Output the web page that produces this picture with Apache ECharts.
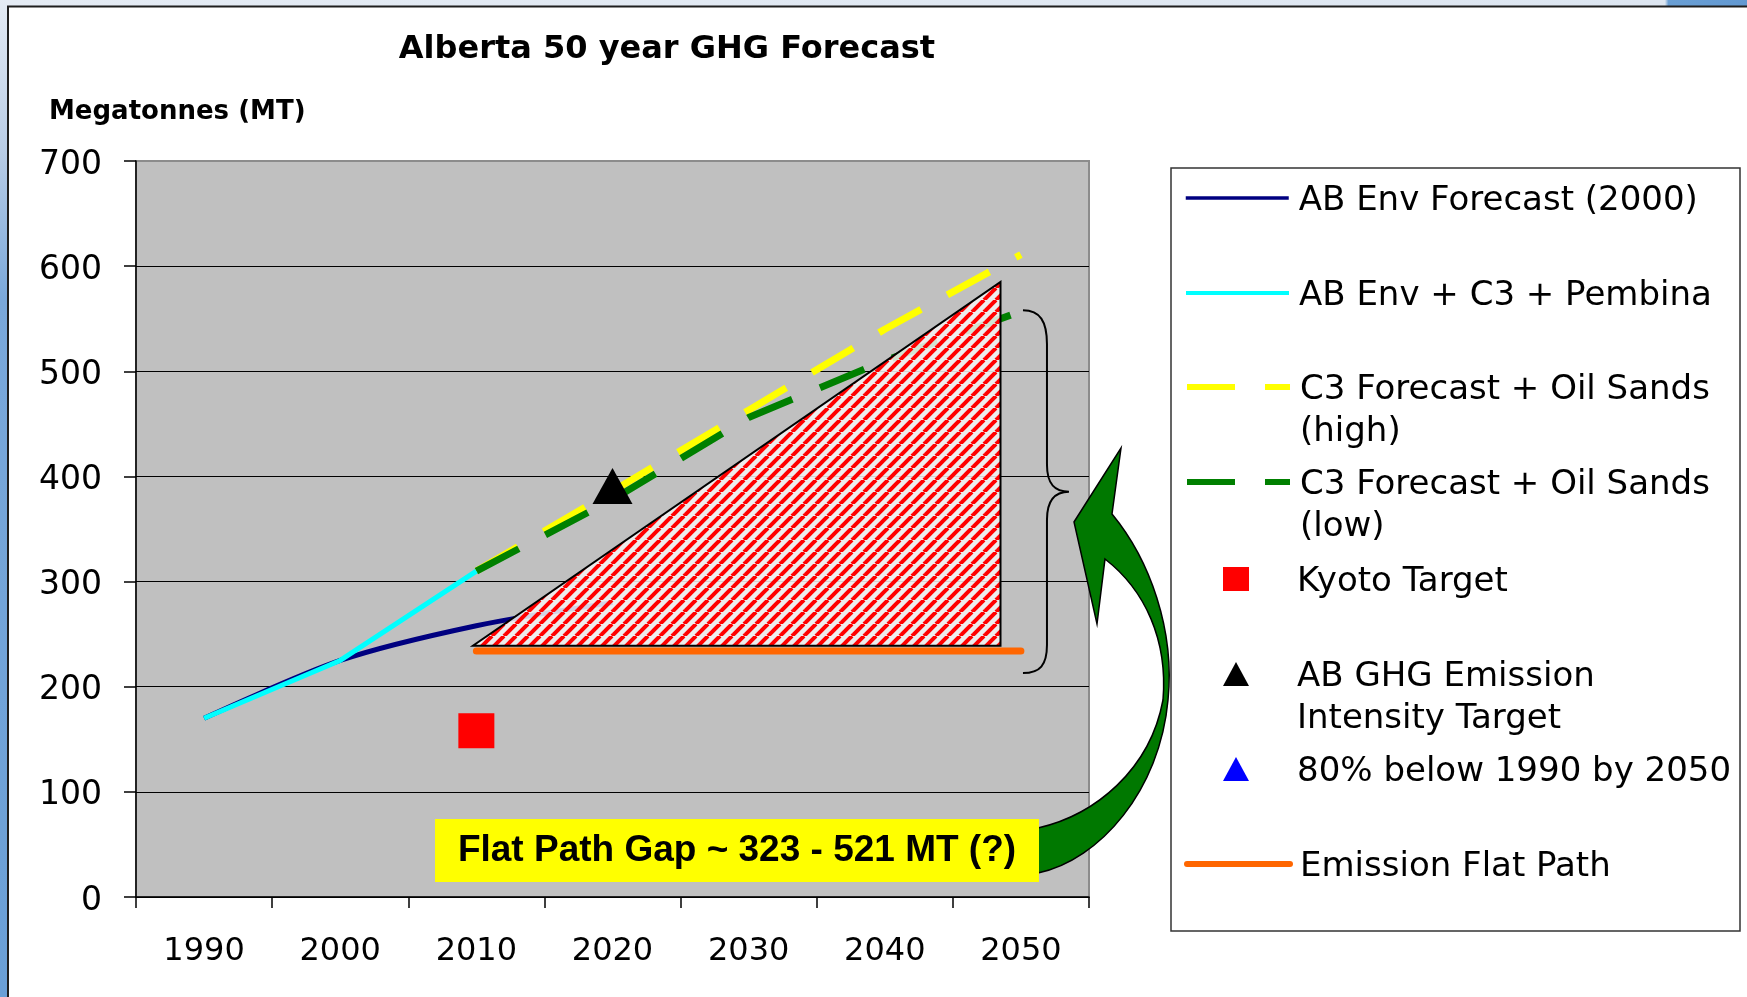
<!DOCTYPE html>
<html>
<head>
<meta charset="utf-8">
<title>Alberta 50 year GHG Forecast</title>
<script src="https://cdn.jsdelivr.net/npm/echarts@6/dist/echarts.min.js"></script>
<style>
html, body { margin: 0; padding: 0; background: #fff; }
#main { width: 1747px; height: 997px; }
</style>
</head>
<body>
<div id="main"></div>
<script>
// categories on the x axis (decades)
var decades = ['1990', '2000', '2010', '2020', '2030', '2040', '2050'];

// series values, [year, megatonnes]
var abEnv2000 = [[1990, 170], [2000, 225], [2010, 258], [2020, 280]];
var abEnvC3Pembina = [[1990, 170], [2000, 225], [2010, 310]];
var c3High = [[2010, 310], [2020, 386], [2030, 463], [2040, 540], [2050, 611]];
var c3Low = [[2010, 310], [2020, 378], [2030, 456], [2040, 510], [2050, 557]];
var kyotoTarget = [[2010, 158]];
var intensityTarget = [[2020, 391]];
var below1990 = [[2050, 34]];
var flatPath = [[2010, 234], [2050, 234]];

// hatched gap triangle and the brace that spans the gap
var gapTriangle = [[2009.75, 239], [2048.5, 239], [2048.5, 585]];
var braceSpan = [2050.15, 558, 213];

var FONT = 'DejaVu Sans';

// red / white diagonal hatch
var hatch = document.createElement('canvas');
hatch.width = 12;
hatch.height = 12;
var hctx = hatch.getContext('2d');
hctx.fillStyle = 'rgba(244,244,244,0.86)';
hctx.fillRect(0, 0, 12, 12);
hctx.strokeStyle = '#ff0000';
hctx.lineWidth = 4;
for (var k = -1; k <= 1; k++) {
    hctx.beginPath();
    hctx.moveTo(k * 12, 12);
    hctx.lineTo(k * 12 + 12, 0);
    hctx.stroke();
}

function grad(x2, y2, stops) {
    return {type: 'linear', x: 0, y: 0, x2: x2, y2: y2, colorStops: stops};
}

var myChart = echarts.init(document.getElementById('main'));

// one legend component per entry so the rows line up like the original box
function legendRow(name, centerY, label, lineWidth) {
    var lh = 42;
    var parts = label.split('\n');
    var text = parts.map(function (s) { return '{t|' + s + '}'; }).join('\n');
    if (parts.length > 1) text = '\n' + text; // empty first line keeps row 1 on the icon
    var lg = {
        data: [name],
        top: parts.length > 1 ? centerY - 1.5 * lh : centerY - lh / 2,
        padding: 0,
        itemHeight: 24,
        selectedMode: false,
        formatter: function () { return text; },
        textStyle: {
            fontFamily: FONT, fontSize: 34, color: '#000', lineHeight: lh,
            rich: {t: {fontFamily: FONT, fontSize: 34, color: '#000', lineHeight: lh, padding: [6, 0, 0, 0]}}
        }
    };
    if (lineWidth) {
        lg.left = 1184;
        lg.itemWidth = 103;
        lg.lineStyle = {width: lineWidth};
        lg.itemStyle = {opacity: 0};
        lg.textStyle.padding = [0, 0, 0, 5];
    } else {
        lg.left = 1223;
        lg.itemWidth = 26;
        lg.textStyle.padding = [0, 0, 0, 43];
    }
    return lg;
}

var option = {
    backgroundColor: '#fff',
    animation: false,
    title: [{
        text: 'Alberta 50 year GHG Forecast',
        left: 667, top: 34, padding: 0, textAlign: 'center',
        textStyle: {fontFamily: FONT, fontWeight: 'bold', fontSize: 32, color: '#000'}
    }, {
        text: 'Megatonnes (MT)',
        left: 49, top: 99, padding: 0,
        textStyle: {fontFamily: FONT, fontWeight: 'bold', fontSize: 26, color: '#000'}
    }],
    legend: [
        legendRow('AB Env Forecast (2000)', 198, 'AB Env Forecast (2000)', 3.5),
        legendRow('AB Env + C3 + Pembina', 293, 'AB Env + C3 + Pembina', 4),
        legendRow('C3 Forecast + Oil Sands (high)', 387, 'C3 Forecast + Oil Sands\n(high)', 6),
        legendRow('C3 Forecast + Oil Sands (low)', 482, 'C3 Forecast + Oil Sands\n(low)', 6),
        legendRow('Kyoto Target', 579, 'Kyoto Target'),
        legendRow('AB GHG Emission Intensity Target', 674, 'AB GHG Emission\nIntensity Target'),
        legendRow('80% below 1990 by 2050', 769, '80% below 1990 by 2050'),
        legendRow('Emission Flat Path', 864, 'Emission Flat Path', 6)
    ],
    grid: {
        left: 136, right: 658, top: 161, bottom: 100,
        show: true, backgroundColor: '#c0c0c0', borderColor: '#8c8c8c', borderWidth: 2
    },
    xAxis: [{
        type: 'category',
        data: decades,
        boundaryGap: true,
        axisLine: {lineStyle: {color: '#000', width: 1.5}},
        axisTick: {show: true, interval: 0, length: 11, lineStyle: {color: '#000', width: 1.5}},
        axisLabel: {interval: 0, margin: 39, fontFamily: FONT, fontSize: 32, color: '#000'},
        splitLine: {show: false}
    }, {
        type: 'value',
        min: 1985, max: 2055,
        show: false
    }],
    yAxis: {
        type: 'value',
        min: 0, max: 700, interval: 100,
        axisLine: {show: true, lineStyle: {color: '#000', width: 1.5}},
        axisTick: {show: true, length: 12, lineStyle: {color: '#000', width: 1.5}},
        axisLabel: {
            margin: 34, formatter: '{v|{value}}',
            rich: {v: {fontFamily: FONT, fontSize: 33, color: '#000', padding: [8, 0, 0, 0]}}
        },
        splitLine: {show: true, showMaxLine: false, lineStyle: {color: '#000', width: 1.2}}
    },
    series: [{
        name: 'AB Env Forecast (2000)',
        type: 'line', xAxisIndex: 1, symbol: 'none', smooth: 0.3, z: 2,
        lineStyle: {color: '#000080', width: 5},
        itemStyle: {color: '#000080'},
        data: abEnv2000
    }, {
        name: 'C3 Forecast + Oil Sands (high)',
        type: 'line', xAxisIndex: 1, symbol: 'none', z: 2,
        lineStyle: {color: '#ffff00', width: 7, type: [48, 30]},
        itemStyle: {color: '#ffff00'},
        data: c3High
    }, {
        name: 'C3 Forecast + Oil Sands (low)',
        type: 'line', xAxisIndex: 1, symbol: 'none', z: 2,
        lineStyle: {color: '#008000', width: 7, type: [48, 30]},
        itemStyle: {color: '#008000'},
        data: c3Low
    }, {
        name: 'gap',
        type: 'custom', xAxisIndex: 1, silent: true, z: 3,
        data: gapTriangle,
        renderItem: function (params, api) {
            if (params.dataIndex !== 0) return null;
            var pts = gapTriangle.map(function (p) { return api.coord(p); });
            return {
                type: 'polygon',
                shape: {points: pts},
                style: {fill: {image: hatch, repeat: 'repeat'}, stroke: '#000', lineWidth: 2}
            };
        }
    }, {
        name: 'AB Env + C3 + Pembina',
        type: 'line', xAxisIndex: 1, symbol: 'none', z: 4,
        lineStyle: {color: '#00ffff', width: 5},
        itemStyle: {color: '#00ffff'},
        data: abEnvC3Pembina
    }, {
        name: 'Emission Flat Path',
        type: 'line', xAxisIndex: 1, symbol: 'none', z: 4,
        lineStyle: {color: '#ff6600', width: 7, cap: 'round'},
        itemStyle: {color: '#ff6600'},
        data: flatPath
    }, {
        name: 'Kyoto Target',
        type: 'scatter', xAxisIndex: 1, symbol: 'rect', symbolSize: [36, 35], z: 5,
        itemStyle: {color: '#ff0000', opacity: 1},
        data: kyotoTarget
    }, {
        name: 'AB GHG Emission Intensity Target',
        type: 'scatter', xAxisIndex: 1, symbol: 'triangle', symbolSize: [40, 36], z: 5,
        itemStyle: {color: '#000', opacity: 1},
        data: intensityTarget
    }, {
        name: '80% below 1990 by 2050',
        type: 'scatter', xAxisIndex: 1, symbol: 'triangle', symbolSize: [24, 22], z: 5,
        itemStyle: {color: '#0000ff', opacity: 1},
        data: below1990
    }, {
        // brace over the gap and the curved call-out arrow
        name: 'annotations',
        type: 'custom', xAxisIndex: 1, silent: true, z: 6, clip: false,
        data: [braceSpan],
        renderItem: function (params, api) {
            var top = api.coord([braceSpan[0], braceSpan[1]]);
            var bot = api.coord([braceSpan[0], braceSpan[2]]);
            var bx = top[0], stem = bx + 24, tip = bx + 46, mid = (top[1] + bot[1]) / 2;
            var brace = 'M' + bx + ' ' + top[1] +
                ' C' + (bx + 17) + ' ' + top[1] + ' ' + stem + ' ' + (top[1] + 11) + ' ' + stem + ' ' + (top[1] + 34) +
                ' L' + stem + ' ' + (mid - 27) +
                ' C' + stem + ' ' + (mid - 7) + ' ' + (stem + 8) + ' ' + mid + ' ' + tip + ' ' + mid +
                ' C' + (stem + 8) + ' ' + mid + ' ' + stem + ' ' + (mid + 8) + ' ' + stem + ' ' + (mid + 28) +
                ' L' + stem + ' ' + (bot[1] - 28) +
                ' C' + stem + ' ' + (bot[1] - 8) + ' ' + (bx + 17) + ' ' + bot[1] + ' ' + bx + ' ' + bot[1];
            var arrow = 'M1112 514 C1150 560 1175 630 1168 700 C1160 790 1100 860 1038 873 ' +
                'L1038 828 C1095 815 1150 770 1163 700 C1168 640 1145 590 1105 559 ' +
                'L1097 624 L1074 522 L1121 448 Z';
            return {
                type: 'group',
                children: [{
                    type: 'path', shape: {pathData: brace},
                    style: {fill: null, stroke: '#000', lineWidth: 2}
                }, {
                    type: 'path', shape: {pathData: arrow},
                    style: {fill: '#007800', stroke: '#000', lineWidth: 1.5}
                }]
            };
        }
    }],
    graphic: [
        // slide frame
        {type: 'rect', z: 0, silent: true, shape: {x: 0, y: 0, width: 1747, height: 6},
            style: {fill: grad(1, 0, [
                {offset: 0, color: '#e4ebf4'}, {offset: 0.953, color: '#dde6f1'},
                {offset: 0.955, color: '#6a9fd4'}, {offset: 1, color: '#6299d2'}])}},
        {type: 'rect', z: 0, silent: true, shape: {x: 0, y: 0, width: 7, height: 997},
            style: {fill: grad(0, 1, [
                {offset: 0, color: '#e4ebf4'}, {offset: 0.15, color: '#b9cde6'},
                {offset: 0.3, color: '#7aa8da'}, {offset: 1, color: '#6a9fd6'}])}},
        {type: 'line', z: 1, silent: true, shape: {x1: 7, y1: 6.5, x2: 1747, y2: 6.5},
            style: {stroke: '#1e1e1e', lineWidth: 2}},
        {type: 'line', z: 1, silent: true, shape: {x1: 8, y1: 6, x2: 8, y2: 997},
            style: {stroke: '#1e1e1e', lineWidth: 2}},
        // legend frame
        {type: 'rect', z: 0, silent: true, shape: {x: 1171, y: 168, width: 569, height: 763},
            style: {fill: '#fff', stroke: '#333', lineWidth: 1.5}},
        // gap call-out
        {type: 'rect', z: 70, silent: true, shape: {x: 435, y: 819, width: 604, height: 63},
            style: {fill: '#ffff00'}},
        {type: 'text', z: 71, silent: true, x: 737, y: 851,
            style: {text: 'Flat Path Gap ~ 323 - 521 MT (?)', fontFamily: 'Liberation Sans',
                fontWeight: 'bold', fontSize: 37, fill: '#000', align: 'center', verticalAlign: 'middle'}}
    ]
};

myChart.setOption(option);
</script>
</body>
</html>
